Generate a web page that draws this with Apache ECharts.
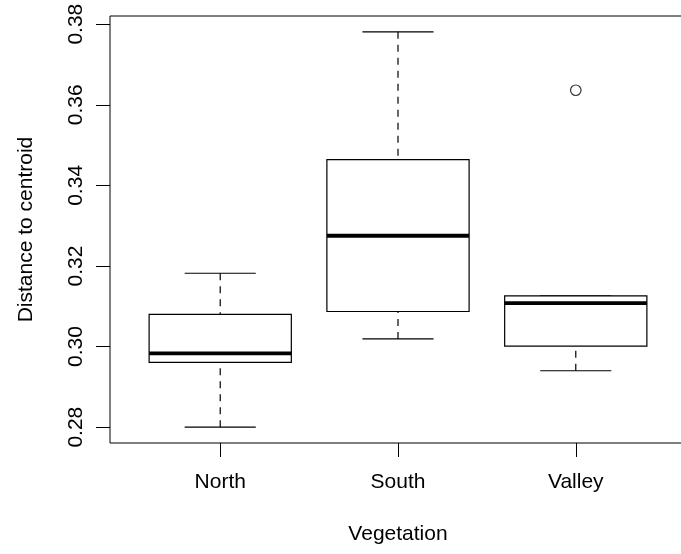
<!DOCTYPE html>
<html>
<head>
<meta charset="utf-8">
<script src="https://cdn.jsdelivr.net/npm/echarts@6/dist/echarts.min.js"></script>
<style>
html,body{margin:0;padding:0;background:#fff;overflow:hidden;}
#chart{width:681px;height:554px;}
</style>
</head>
<body>
<div id="chart"></div>
<script>
// ---- data ----
var categories    = ['North', 'South', 'Valley'];
var lowerWhisker  = [0.2800, 0.3019, 0.2940];
var lowerQuartile = [0.2961, 0.3087, 0.3001];
var medians       = [0.2983, 0.3275, 0.3108];
var upperQuartile = [0.3080, 0.3464, 0.3126];
var upperWhisker  = [0.3182, 0.3781, 0.3126];
var outlierGroup  = ['Valley'];
var outlierValue  = [0.3636];
var yTickValues   = [0.28, 0.30, 0.32, 0.34, 0.36, 0.38];
var xTitle = 'Vegetation';
var yTitle = 'Distance to centroid';

// ---- build ----
var boxData = categories.map(function (c, i) {
  return [i + 1, lowerWhisker[i], lowerQuartile[i], medians[i], upperQuartile[i], upperWhisker[i]];
});
var outData = outlierGroup.map(function (g, i) {
  return [categories.indexOf(g) + 1, outlierValue[i]];
});
var allVals = lowerWhisker.concat(upperWhisker, outlierValue);
var lo = Math.min.apply(null, allVals), hi = Math.max.apply(null, allVals);
var pad = (hi - lo) * 0.04;
var xPad = (categories.length) * 0.04;

var FONT = '"Liberation Sans", Arial, Helvetica, sans-serif';
var INK = '#000';

var chart = echarts.init(document.getElementById('chart'), null, {renderer: 'canvas'});
chart.setOption({
  animation: false,
  backgroundColor: '#fff',
  grid: {
    left: 110, top: 16, width: 576, height: 427,
    outerBoundsMode: 'none', containLabel: false,
    show: true, borderColor: INK, borderWidth: 1, backgroundColor: 'transparent'
  },
  xAxis: {
    type: 'value',
    min: 0.5 - xPad, max: categories.length + 0.5 + xPad,
    name: xTitle, nameLocation: 'middle', nameGap: 81,
    nameTextStyle: {fontFamily: FONT, fontSize: 21, color: INK},
    axisLine: {show: false},
    splitLine: {show: false},
    axisTick: {show: true, customValues: [1, 2, 3], length: 14, lineStyle: {color: INK, width: 1}},
    axisLabel: {
      customValues: [1, 2, 3], margin: 29,
      fontFamily: FONT, fontSize: 21, color: INK,
      formatter: function (v) { return categories[Math.round(v) - 1]; }
    }
  },
  yAxis: {
    type: 'value',
    min: lo - pad, max: hi + pad,
    name: yTitle, nameLocation: 'middle', nameGap: 73, nameRotate: 90,
    nameTextStyle: {fontFamily: FONT, fontSize: 21, color: INK},
    axisLine: {show: false},
    splitLine: {show: false},
    axisTick: {show: true, customValues: yTickValues, length: 14, lineStyle: {color: INK, width: 1}},
    axisLabel: {
      customValues: yTickValues, rotate: 90, margin: 23,
      fontFamily: FONT, fontSize: 21, color: INK,
      formatter: function (v) { return v.toFixed(2); }
    }
  },
  series: [
    {
      type: 'custom',
      data: boxData,
      encode: {x: 0, y: [1, 2, 3, 4, 5]},
      renderItem: function (params, api) {
        var x = api.value(0);
        var pLo = api.coord([x, api.value(1)]);
        var pQ1 = api.coord([x, api.value(2)]);
        var pMd = api.coord([x, api.value(3)]);
        var pQ3 = api.coord([x, api.value(4)]);
        var pHi = api.coord([x, api.value(5)]);
        var halfBox = api.size([0.4, 0])[0];
        var halfCap = api.size([0.2, 0])[0];
        var cx = pMd[0];
        var solid = {stroke: INK, lineWidth: 1.2, fill: null};
        var dashed = {stroke: INK, lineWidth: 1.2, lineDash: [7, 6], fill: null};
        return {
          type: 'group',
          children: [
            {type: 'line', shape: {x1: cx, y1: pLo[1], x2: cx, y2: pQ1[1]}, style: dashed},
            {type: 'line', shape: {x1: cx, y1: pHi[1], x2: cx, y2: pQ3[1]}, style: dashed},
            {type: 'line', shape: {x1: cx - halfCap, y1: pLo[1], x2: cx + halfCap, y2: pLo[1]}, style: solid},
            {type: 'line', shape: {x1: cx - halfCap, y1: pHi[1], x2: cx + halfCap, y2: pHi[1]}, style: solid},
            {type: 'rect', shape: {x: cx - halfBox, y: pQ3[1], width: 2 * halfBox, height: pQ1[1] - pQ3[1]},
             style: {stroke: INK, lineWidth: 1.2, fill: '#fff'}},
            {type: 'line', shape: {x1: cx - halfBox, y1: pMd[1], x2: cx + halfBox, y2: pMd[1]},
             style: {stroke: INK, lineWidth: 3.8}}
          ]
        };
      }
    },
    {
      type: 'scatter',
      data: outData,
      symbol: 'circle',
      symbolSize: 10.5,
      itemStyle: {color: '#fff', borderColor: INK, borderWidth: 1.2}
    }
  ]
});
</script>
</body>
</html>
